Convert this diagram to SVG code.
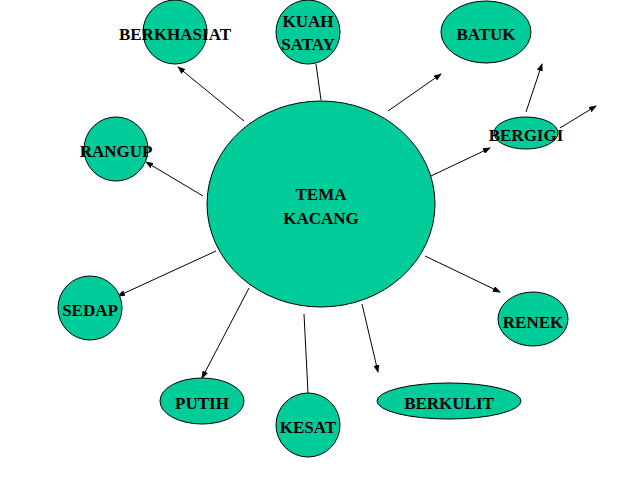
<svg xmlns="http://www.w3.org/2000/svg" width="638" height="479" viewBox="0 0 638 479">
<style>
.n{fill:#00cc99;stroke:#000;stroke-width:1}
text{font-family:"Liberation Serif",serif;font-weight:bold;font-size:17px;text-anchor:middle;fill:#000}
.c line{stroke:#000;stroke-width:1}
</style>
<defs><marker id="a" markerWidth="8" markerHeight="6" refX="7" refY="3" orient="auto" markerUnits="userSpaceOnUse"><path d="M0,0L8,3L0,6z" fill="#000"/></marker></defs>
<rect width="638" height="479" fill="#fff"/>
<g class="c">
<line x1="244" y1="121" x2="178" y2="67" marker-end="url(#a)"/>
<line x1="321" y1="100" x2="316" y2="64"/>
<line x1="388" y1="111" x2="441" y2="74" marker-end="url(#a)"/>
<line x1="431" y1="176" x2="490" y2="148" marker-end="url(#a)"/>
<line x1="526" y1="112" x2="542" y2="64" marker-end="url(#a)"/>
<line x1="560" y1="128" x2="596" y2="106" marker-end="url(#a)"/>
<line x1="203" y1="196" x2="146" y2="162" marker-end="url(#a)"/>
<line x1="216" y1="251" x2="118" y2="296" marker-end="url(#a)"/>
<line x1="249" y1="288" x2="202" y2="378" marker-end="url(#a)"/>
<line x1="304" y1="314" x2="308" y2="393"/>
<line x1="362" y1="304" x2="378" y2="372" marker-end="url(#a)"/>
<line x1="425" y1="256" x2="500" y2="292" marker-end="url(#a)"/>
</g>
<g id="tema"><ellipse class="n" cx="321" cy="204" rx="114" ry="103"/><text x="321" y="200">TEMA</text><text x="321" y="224">KACANG</text></g>
<g id="berkhasiat"><ellipse class="n" cx="175" cy="32" rx="32" ry="32"/><text x="175" y="40">BERKHASIAT</text></g>
<g id="kuah"><ellipse class="n" cx="308" cy="32" rx="32" ry="32"/><text x="308" y="27">KUAH</text><text x="308" y="50">SATAY</text></g>
<g id="batuk"><ellipse class="n" cx="486" cy="32" rx="45" ry="31"/><text x="486" y="40">BATUK</text></g>
<g id="bergigi"><ellipse class="n" cx="526" cy="133" rx="32" ry="16"/><text x="526" y="141">BERGIGI</text></g>
<g id="rangup"><ellipse class="n" cx="116" cy="149" rx="32" ry="32"/><text x="116" y="157">RANGUP</text></g>
<g id="sedap"><ellipse class="n" cx="90" cy="308" rx="32" ry="32"/><text x="90" y="316">SEDAP</text></g>
<g id="renek"><ellipse class="n" cx="533" cy="319" rx="35" ry="27"/><text x="533" y="328">RENEK</text></g>
<g id="putih"><ellipse class="n" cx="202" cy="401" rx="42" ry="23"/><text x="202" y="409">PUTIH</text></g>
<g id="kesat"><ellipse class="n" cx="308" cy="425" rx="32" ry="32"/><text x="308" y="433">KESAT</text></g>
<g id="berkulit"><ellipse class="n" cx="449" cy="401" rx="72" ry="18"/><text x="449" y="409">BERKULIT</text></g>
</svg>
